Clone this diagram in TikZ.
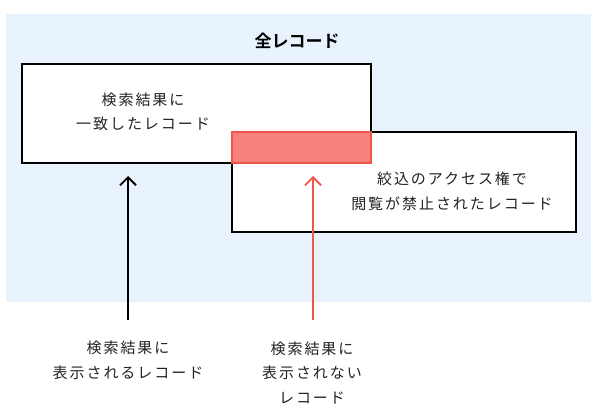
\documentclass[tikz,border=0pt]{standalone}
\usepackage{fontspec}
\usetikzlibrary{arrows.meta,positioning}
\newfontfamily\jp[LetterSpace=13]{Noto Sans CJK JP}
\newfontfamily\jpbold{Noto Sans CJK JP Bold}
\definecolor{allbg}{HTML}{E8F3FD}
\definecolor{deniedred}{HTML}{F0574A}
\definecolor{deniedfill}{HTML}{F6827B}
\definecolor{labeltext}{HTML}{222222}

\begin{document}
\begin{tikzpicture}[
    x=1pt, y=-1pt,
    recbox/.style={draw=black,line width=1.8pt,fill=white},
    lbl/.style={align=center,inner sep=0pt,text=labeltext,font=\jp\fontsize{15}{24.5}\selectfont},
    >={Straight Barb[length=8pt,width=16pt]}
]
\useasboundingbox (0,0) rectangle (597,417);
% all records
\fill[allbg] (6,14) rectangle (591,302);
\node[font=\jpbold\fontsize{17}{18}\selectfont,inner sep=0pt] (all) at (297,41) {全レコード};

% matched / restricted boxes
\draw[recbox] (232,132) rectangle (576,232);
\draw[recbox] (22,64) rectangle (371,163);
\draw[draw=deniedred,fill=deniedfill,line width=1.8pt] (232,132) rectangle (371,163);

\node[lbl] (match) at (143,112) {検索結果に\\一致したレコード};
\node[lbl] (deny) at (452,191.5) {絞込のアクセス権で\\閲覧が禁止されたレコード};

% labels below
\node[lbl] (shown) at (128,360.5) {検索結果に\\表示されるレコード};
\node[lbl] (hidden) at (312,373) {検索結果に\\表示されない\\レコード};

\coordinate (shownTip) at (128,176);
\coordinate (hiddenTip) at (313,176);
\coordinate (shownEnd) at (128,320);
\coordinate (hiddenEnd) at (313,320);
\draw[->,line width=1.8pt] (shownEnd) -- (shownTip);
\draw[->,line width=1.8pt,deniedred] (hiddenEnd) -- (hiddenTip);
\end{tikzpicture}
\end{document}
